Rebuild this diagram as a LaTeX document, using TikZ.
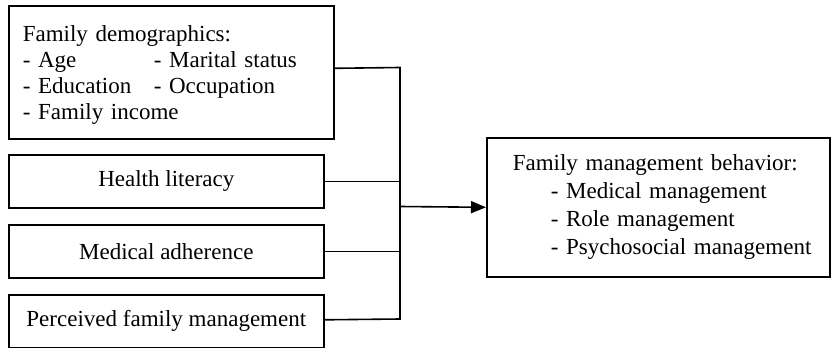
\documentclass[tikz,border=0pt]{standalone}
\usepackage{fontspec}
\setmainfont{Liberation Serif}
\usetikzlibrary{arrows.meta,calc}
\begin{document}
\begin{tikzpicture}[x=1pt,y=-1pt,
  box/.style={draw,line width=1.6pt,inner ysep=0pt,font=\fontsize{23}{26}\selectfont},
  conn/.style={line width=1.6pt},
  arr/.style={line width=1.6pt,-{Triangle[length=15pt,width=12pt]}}]
\useasboundingbox (0,0) rectangle (831,348);
\node[box,anchor=north west,text width=297pt,inner xsep=14pt,minimum height=133pt,align=left] (demo) at (8,5)
 {\rule{0pt}{21pt}Family demographics:\\
  \makebox[131pt][l]{- Age}- Marital status\\
  \makebox[131pt][l]{- Education}- Occupation\\
  - Family income};
\node[box,anchor=north west,minimum width=315pt,minimum height=53pt] (hl) at (8,154) {Health literacy};
\node[box,anchor=north west,minimum width=315pt,minimum height=53pt] (ma) at (8,224) {Medical adherence};
\node[box,anchor=north west,minimum width=315pt,minimum height=53pt] (pfm) at (8,294) {Perceived family management};
\node[box,anchor=north west,text width=343pt,inner xsep=0pt,minimum height=139pt,align=left,font=\fontsize{23}{28}\selectfont] (fmb) at (486,137)
 {\hyphenpenalty=10000
  \hspace*{26pt}Family management behavior:\\
  \hspace*{64pt}- Medical management\\
  \hspace*{64pt}- Role management\\
  \hspace*{64pt}- Psychosocial management};
\coordinate (bt) at (400,67.5);
\coordinate (bb) at (400,319);
\coordinate (bm) at (400,206.5);
\draw[conn] ([yshift=4pt]demo.east) -- (bt) -- (bb) -- ([yshift=1.5pt]pfm.east);
\draw[conn] (hl.east) -- (hl.east -| bt);
\draw[conn] (ma.east) -- (ma.east -| bt);
\draw[arr] (bm) -- (fmb.west);
\end{tikzpicture}
\end{document}
